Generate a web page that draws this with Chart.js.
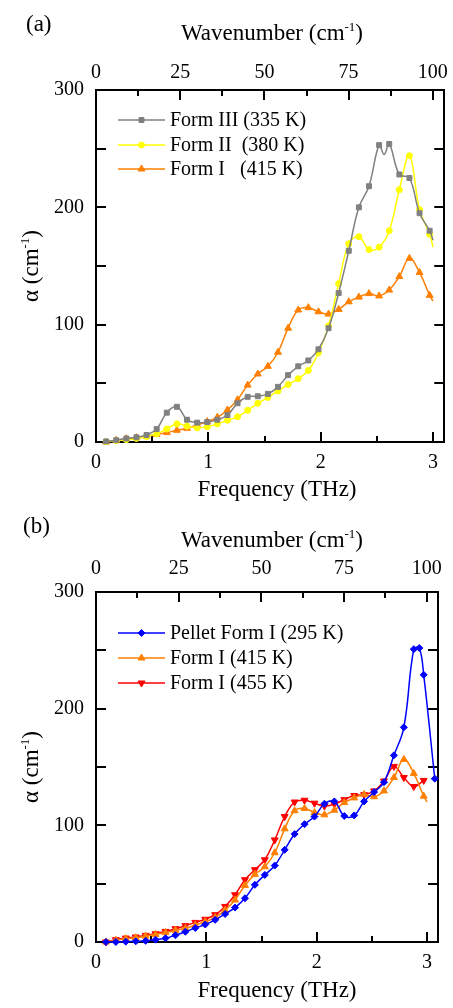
<!DOCTYPE html>
<html><head><meta charset="utf-8">
<script src="https://cdn.jsdelivr.net/npm/chart.js@4.4.0/dist/chart.umd.min.js"></script>
<style>
html,body{margin:0;padding:0;background:#fff;}
body{width:453px;height:1008px;overflow:hidden;position:relative;}
.panel{position:absolute;left:0;width:453px;height:504px;}
canvas{display:block;}
</style></head><body>
<div class="panel" style="top:0"><canvas id="ca" width="453" height="504"></canvas></div>
<div class="panel" style="top:504px"><canvas id="cb" width="453" height="504"></canvas></div>
<script>
const FONT = "'Liberation Serif','Times New Roman',Times,serif";

// ---- data ----
const freq = [0.09,0.18,0.27,0.36,0.45,0.54,0.63,0.72,0.81,0.90,0.99,1.08,1.17,1.26,1.35,1.44,1.53,1.62,1.71,1.80,1.89,1.98,2.07,2.16,2.25,2.34,2.43,2.52,2.61,2.70,2.79,2.88,2.97];
const formIII_335 = [0.5,1.5,3,4,6,11,25,30,19,16.5,17,19,23,33,38.5,39,41,47,57,64.5,69.5,79,97,127,163,200,218,253,254,228,225,195,180];
const formIII_extra = [[2.565,245],[3.0,172]];
const formII_380 = [0.3,1,2,3,4.5,7,11,15.5,13.5,12,13,15.5,18.5,21.5,27,33,38,43.5,49,54,61,76,99,135,169,175,164,166,180,215,244,198,177];
const formII_extra = [[3.0,166]];
const formI_415 = [0,1.5,2.8,3.7,5,6.5,8,10,11.7,14.5,17.4,21,27.3,36,48.5,58,64.5,76.5,97,112.5,114.5,111,109,113,119.5,123.5,126.5,124.5,129.5,141,156.5,144.5,125];
const formI_415_extra = [[3.0,120]];
const formI_455 = [0,2,3.4,4.3,5.7,7.1,9.1,11.4,14,16.8,19.5,23.4,30.5,40.5,53.4,62,70.5,87.5,107.5,120,121.5,119,116.5,118.2,122,125.5,126.3,129.5,138,150.5,141,133.3,138.5];
const freqPellet = [0.09,0.18,0.27,0.36,0.45,0.54,0.63,0.72,0.81,0.90,0.99,1.08,1.17,1.26,1.35,1.44,1.53,1.62,1.71,1.80,1.89,1.98,2.07,2.16,2.25,2.34,2.43,2.52,2.61,2.70,2.79,2.88,2.93,2.97,3.07];
const pellet_295 = [0,0,0.3,0.6,1,2,3.2,5.8,8.8,12,15,19,24,29.5,37.5,49,57.5,65.5,79,92.5,101,107.5,118.5,120.5,108,108.5,120.5,128.5,137,160,184,251,252,229,140];

// ---- axes / ticks ----
const freqMax = 3.1;
const cmPerTHz = 33.356;
const freqTicks = [0,1,2,3];
const freqMinor = [0.5,1.5,2.5];
const wnTicks = [0,25,50,75,100];
const wnMinor = [12.5,37.5,62.5,87.5];
const alphaTicks = [0,100,200,300];
const alphaMinor = [50,150,250];

function pts(xs, ys, extra){
  const a = xs.map((x,i)=>({x:x, y:ys[i], m:1}));
  (extra||[]).forEach(e=>a.push({x:e[0], y:e[1], m:0}));
  a.sort((p,q)=>p.x-q.x);
  return a;
}
function ds(label, data, color, style, radius, rotation){
  return {label, data, borderColor:color, backgroundColor:color,
    pointBackgroundColor:color, pointBorderColor:color, borderWidth:1.5,
    pointStyle:style, pointRotation:rotation||0,
    pointRadius:(c)=> (c.raw && c.raw.m===0) ? 0 : radius,
    pointBorderWidth:1, tension:0.4, clip:false, _r:radius};
}

function rich(ctx, parts, x, y, align){
  let w=0;
  parts.forEach(p=>{ctx.font=(p.sup?'13px ':'23px ')+FONT; p.w=ctx.measureText(p.t).width; w+=p.w;});
  let cx = align==='center' ? x-w/2 : x;
  ctx.textAlign='left'; ctx.textBaseline='alphabetic';
  parts.forEach(p=>{ctx.font=(p.sup?'13px ':'23px ')+FONT; ctx.fillText(p.t, cx, p.sup? y-9 : y); cx+=p.w;});
}

const decor = {
  id:'decor',
  beforeDatasetsDraw(chart, args, o){
    const ctx=chart.ctx, a=chart.chartArea, s=chart.scales;
    ctx.save(); ctx.strokeStyle='#000'; ctx.lineWidth=2; ctx.beginPath();
    freqTicks.forEach(v=>{const px=Math.round(s.x.getPixelForValue(v)); ctx.moveTo(px,a.bottom); ctx.lineTo(px,a.bottom-10);});
    freqMinor.forEach(v=>{const px=Math.round(s.x.getPixelForValue(v)); ctx.moveTo(px,a.bottom); ctx.lineTo(px,a.bottom-6);});
    wnTicks.forEach(v=>{const px=Math.round(s.xt.getPixelForValue(v)); ctx.moveTo(px,a.top); ctx.lineTo(px,a.top+10);});
    wnMinor.forEach(v=>{const px=Math.round(s.xt.getPixelForValue(v)); ctx.moveTo(px,a.top); ctx.lineTo(px,a.top+6);});
    alphaTicks.concat(alphaMinor).forEach(v=>{const py=Math.round(s.y.getPixelForValue(v));
      ctx.moveTo(a.left,py); ctx.lineTo(a.left+10,py); ctx.moveTo(a.right,py); ctx.lineTo(a.right-10,py);});
    ctx.stroke(); ctx.restore();
  },
  afterDraw(chart, args, o){
    const ctx=chart.ctx, a=chart.chartArea;
    ctx.save(); ctx.fillStyle='#000';
    // panel label
    ctx.font='23px '+FONT; ctx.textAlign='left'; ctx.textBaseline='alphabetic';
    ctx.fillText(o.panel, o.panelX, o.panelY);
    // axis titles
    rich(ctx, [{t:'Wavenumber (cm'},{t:'-1',sup:1},{t:')'}], o.topTitleX, o.topTitleY, 'center');
    rich(ctx, [{t:'Frequency (THz)'}], o.botTitleX, o.botTitleY, 'center');
    ctx.save(); ctx.translate(o.yTitleX, (a.top+a.bottom)/2); ctx.rotate(-Math.PI/2);
    rich(ctx, [{t:'\u03b1 (cm'},{t:'-1',sup:1},{t:')'}], 0, 0, 'center');
    ctx.restore();
    // legend
    chart.data.datasets.forEach((d,i)=>{
      const y=o.legendY[i];
      ctx.strokeStyle=d.borderColor; ctx.lineWidth=1.5;
      ctx.beginPath(); ctx.moveTo(118,y); ctx.lineTo(165,y); ctx.stroke();
      ctx.fillStyle=d.borderColor; ctx.strokeStyle=d.borderColor; ctx.lineWidth=1;
      Chart.helpers.drawPoint(ctx,{pointStyle:d.pointStyle, rotation:d.pointRotation, radius:d._r, borderWidth:1},141.5,y);
      ctx.fillStyle='#000'; ctx.font='20px '+FONT; ctx.textAlign='left'; ctx.textBaseline='middle';
      ctx.fillText(d.label,170,y+1);
    });
    ctx.restore();
  }
};

function scales(g){
  const tf={family:FONT,size:20};
  const border={display:true,color:'#000',width:2};
  const grid={display:false,drawTicks:false};
  return {
    x:{type:'linear',axis:'x',position:'bottom',min:0,max:freqMax,grid,border,
       afterBuildTicks:s=>{s.ticks=freqTicks.map(v=>({value:v}));},
       afterFit:s=>{s.height=504-g.bottom;},
       ticks:{font:tf,color:'#000',padding:g.xPad,maxRotation:0,autoSkip:false}},
    xt:{type:'linear',axis:'x',position:'top',min:0,max:freqMax*cmPerTHz,grid,border,
       afterBuildTicks:s=>{s.ticks=wnTicks.map(v=>({value:v}));},
       afterFit:s=>{s.height=g.top;},
       ticks:{font:tf,color:'#000',padding:g.xtPad,maxRotation:0,autoSkip:false}},
    y:{type:'linear',axis:'y',position:'left',min:0,max:300,grid,border,
       afterBuildTicks:s=>{s.ticks=alphaTicks.map(v=>({value:v}));},
       afterFit:s=>{s.width=g.left;},
       ticks:{font:tf,color:'#000',padding:12,autoSkip:false}},
    yr:{type:'linear',axis:'y',position:'right',min:0,max:300,grid,border,
       afterFit:s=>{s.width=453-g.right;},
       ticks:{display:false}}
  };
}

function make(id, datasets, g, deco){
  return new Chart(document.getElementById(id), {
    type:'line',
    data:{datasets},
    options:{responsive:false,animation:false,devicePixelRatio:1,
      layout:{padding:0},
      parsing:false,
      scales:scales(g),
      plugins:{legend:{display:false},tooltip:{enabled:false},decor:deco}},
    plugins:[decor]
  });
}

make('ca', [
  ds('Form III (335 K)', pts(freq, formIII_335, formIII_extra), '#808080', 'rect', 3.5),
  ds('Form II  (380 K)', pts(freq, formII_380, formII_extra), '#FFFF00', 'circle', 3),
  ds('Form I   (415 K)', pts(freq, formI_415, formI_415_extra), '#FF7F00', 'triangle', 4)
], {top:90,bottom:442,left:96,right:447,xPad:9,xtPad:5},
{panel:'(a)',panelX:26,panelY:31,topTitleX:272,topTitleY:40,botTitleX:277,botTitleY:496,yTitleX:38,legendY:[120,145,169]});

make('cb', [
  ds('Pellet Form I (295 K)', pts(freqPellet, pellet_295), '#0000FF', 'rectRot', 3.5),
  ds('Form I (415 K)', pts(freq, formI_415, formI_415_extra), '#FF7F00', 'triangle', 4),
  ds('Form I (455 K)', pts(freq, formI_455), '#FF0000', 'triangle', 4, 180)
], {top:88,bottom:438,left:96,right:447,xPad:9,xtPad:11},
{panel:'(b)',panelX:23,panelY:29,topTitleX:272,topTitleY:43,botTitleX:277,botTitleY:493,yTitleX:38,legendY:[129,154,179]});
</script>
</body></html>
